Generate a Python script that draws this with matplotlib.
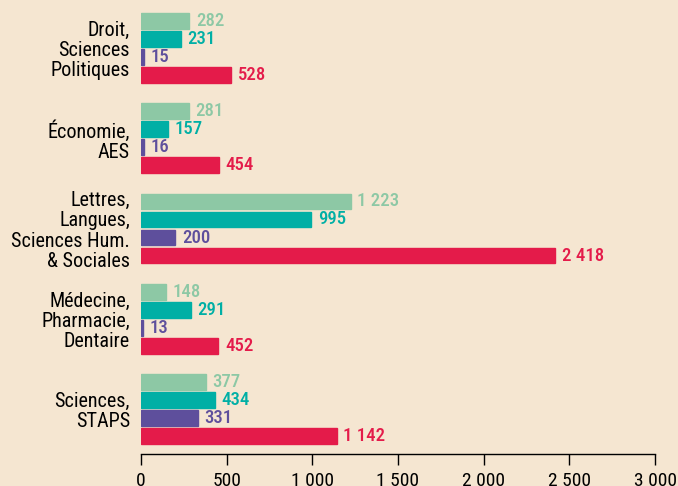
import numpy as np
import matplotlib.pyplot as plt

plt.rcParams['font.family'] = ['Roboto Condensed', 'DejaVu Sans']

categories = ['Droit,\nSciences\nPolitiques', 'Économie,\nAES',
              'Lettres,\nLangues,\nSciences Hum.\n& Sociales',
              'Médecine,\nPharmacie,\nDentaire', 'Sciences,\nSTAPS']
serie1 = [282, 281, 1223, 148, 377]
serie2 = [231, 157, 995, 291, 434]
serie3 = [15, 16, 200, 13, 331]
serie4 = [528, 454, 2418, 452, 1142]
colors = ['#8DC8A5', '#00AFA5', '#5E4F9C', '#E41B4A']
xticks = [0, 500, 1000, 1500, 2000, 2500, 3000]

bg = '#F5E6D1'
fig = plt.figure(figsize=(6.78, 4.86), dpi=100, facecolor=bg)
ax = fig.add_axes([141 / 678, 32 / 486, 514 / 678, 454 / 486])
ax.set_facecolor(bg)

def fmt(v):
    return f'{v:,}'.replace(',', ' ')

y = np.arange(len(categories))
for k, (vals, col) in enumerate(zip([serie1, serie2, serie3, serie4], colors)):
    pos = y + (k - 1.5) * 0.2
    ax.barh(pos, vals, height=0.175, color=col, edgecolor=col, linewidth=1)
    for p, v in zip(pos, vals):
        ax.text(v + 38, p, fmt(v), color=col, va='center', ha='left',
                fontsize=13.5, fontweight='medium')

ax.set_xlim(0, 3000)
ax.set_ylim(4.5, -0.533)
ax.set_yticks(y)
ax.set_yticklabels(categories, fontsize=14.5, linespacing=1.08)
ax.tick_params(axis='y', length=0, pad=8)
ax.set_xticks(xticks)
ax.set_xticklabels([fmt(t) for t in xticks], fontsize=14)
ax.tick_params(axis='x', length=8, width=1, pad=5, color='black')
for s in ['top', 'right', 'left']:
    ax.spines[s].set_visible(False)
ax.spines['bottom'].set_linewidth(1)

fig.savefig('out.png', dpi=100, facecolor=bg)
plt.close()
